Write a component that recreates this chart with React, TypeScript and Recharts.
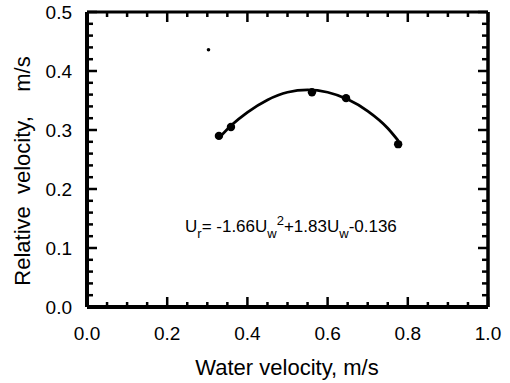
import React from "react";
import {
  ComposedChart,
  Line,
  Scatter,
  XAxis,
  YAxis,
  Customized,
} from "recharts";

// measured points (water velocity, relative velocity)
const measured = [
  { x: 0.329, y: 0.29 },
  { x: 0.359, y: 0.305 },
  { x: 0.561, y: 0.364 },
  { x: 0.646, y: 0.354 },
  { x: 0.776, y: 0.276 },
];

// fitted curve
const fitted = [
  { x: 0.33, y: 0.287 },
  { x: 0.36, y: 0.308 },
  { x: 0.4, y: 0.33 },
  { x: 0.45, y: 0.351 },
  { x: 0.5, y: 0.364 },
  { x: 0.55, y: 0.368 },
  { x: 0.6, y: 0.364 },
  { x: 0.65, y: 0.352 },
  { x: 0.7, y: 0.332 },
  { x: 0.75, y: 0.303 },
  { x: 0.776, y: 0.282 },
];

// small speck in the scan
const speck = [{ x: 0.303, y: 0.436 }];

const xTicks = [
  0, 0.05, 0.1, 0.15, 0.2, 0.25, 0.3, 0.35, 0.4, 0.45, 0.5, 0.55, 0.6, 0.65,
  0.7, 0.75, 0.8, 0.85, 0.9, 0.95, 1.0,
];
const yTicks = [
  0, 0.02, 0.04, 0.06, 0.08, 0.1, 0.12, 0.14, 0.16, 0.18, 0.2, 0.22, 0.24,
  0.26, 0.28, 0.3, 0.32, 0.34, 0.36, 0.38, 0.4, 0.42, 0.44, 0.46, 0.48, 0.5,
];

const xLabel = "Water velocity, m/s";
const yLabel = "Relative  velocity,    m/s";

const font = "'Liberation Sans', Arial, Helvetica, sans-serif";

const isMajorX = (v: number) => Math.abs(v * 5 - Math.round(v * 5)) < 1e-6;
const isMajorY = (v: number) => Math.abs(v * 10 - Math.round(v * 10)) < 1e-6;

function BottomTick(props: any) {
  const { x, y, payload } = props;
  const major = isMajorX(payload.value);
  return (
    <g>
      <line x1={x} y1={y} x2={x} y2={y - (major ? 10 : 5)} stroke="#000" strokeWidth={2.5} />
      {major && (
        <text x={x} y={y + 26} textAnchor="middle" dominantBaseline="central" fontSize={19} fontFamily={font} fill="#000">
          {payload.value.toFixed(1)}
        </text>
      )}
    </g>
  );
}

function TopTick(props: any) {
  const { x, y, payload } = props;
  const major = isMajorX(payload.value);
  return <line x1={x} y1={y} x2={x} y2={y + (major ? 10 : 5)} stroke="#000" strokeWidth={2.5} />;
}

function LeftTick(props: any) {
  const { x, y, payload } = props;
  const major = isMajorY(payload.value);
  return (
    <g>
      <line x1={x} y1={y} x2={x + (major ? 10 : 6)} y2={y} stroke="#000" strokeWidth={2.5} />
      {major && (
        <text x={x - 15} y={y} textAnchor="end" dominantBaseline="central" fontSize={19} fontFamily={font} fill="#000">
          {payload.value.toFixed(1)}
        </text>
      )}
    </g>
  );
}

function RightTick(props: any) {
  const { x, y, payload } = props;
  const major = isMajorY(payload.value);
  return <line x1={x} y1={y} x2={x - (major ? 10 : 6)} y2={y} stroke="#000" strokeWidth={2.5} />;
}

function Annotations() {
  return (
    <g fontFamily={font} fill="#000">
      <text x={287} y={375} textAnchor="middle" fontSize={22}>
        {xLabel}
      </text>
      <text x={22} y={171} textAnchor="middle" dominantBaseline="central" fontSize={22} style={{ whiteSpace: "pre" }} transform="rotate(-90 22 171)">
        {yLabel}
      </text>
      <text x={185} y={232} fontSize={17}>
        U
        <tspan dy={6} fontSize={13}>r</tspan>
        <tspan dy={-6}>= -1.66U</tspan>
        <tspan dy={6} fontSize={13}>w</tspan>
        <tspan dy={-13} fontSize={13}>2</tspan>
        <tspan dy={7}>+1.83U</tspan>
        <tspan dy={6} fontSize={13}>w</tspan>
        <tspan dy={-6}>-0.136</tspan>
      </text>
    </g>
  );
}

const hidden = () => <g />;

export default function App() {
  return (
    <div style={{ position: "absolute", left: 0, top: 0, background: "#fff" }}>
      <ComposedChart
        width={510}
        height={383}
        margin={{ top: 11, right: 21, bottom: 0, left: 20 }}
      >
        <XAxis
          xAxisId="x"
          dataKey="x"
          type="number"
          domain={[0, 1]}
          ticks={xTicks}
          interval={0}
          height={76}
          tickSize={0}
          tickMargin={0}
          tickLine={false}
          axisLine={{ stroke: "#000", strokeWidth: 4 }}
          tick={<BottomTick />}
          allowDataOverflow
        />
        <XAxis
          xAxisId="top"
          orientation="top"
          dataKey="x"
          type="number"
          domain={[0, 1]}
          ticks={xTicks}
          interval={0}
          height={1}
          tickSize={0}
          tickMargin={0}
          tickLine={false}
          axisLine={{ stroke: "#000", strokeWidth: 3 }}
          tick={<TopTick />}
          allowDataOverflow
        />
        <YAxis
          yAxisId="y"
          type="number"
          domain={[0, 0.5]}
          ticks={yTicks}
          interval={0}
          width={67}
          tickSize={0}
          tickMargin={0}
          tickLine={false}
          axisLine={{ stroke: "#000", strokeWidth: 4 }}
          tick={<LeftTick />}
          allowDataOverflow
        />
        <YAxis
          yAxisId="right"
          orientation="right"
          type="number"
          domain={[0, 0.5]}
          ticks={yTicks}
          interval={0}
          width={1}
          tickSize={0}
          tickMargin={0}
          tickLine={false}
          axisLine={{ stroke: "#000", strokeWidth: 3.5 }}
          tick={<RightTick />}
          allowDataOverflow
        />
        <Line
          xAxisId="x"
          yAxisId="y"
          data={fitted}
          dataKey="y"
          type="monotone"
          stroke="#000"
          strokeWidth={2.8}
          dot={false}
          activeDot={false}
          isAnimationActive={false}
        />
        <Scatter
          xAxisId="x"
          yAxisId="y"
          data={measured}
          dataKey="y"
          fill="#000"
          shape={(p: any) => <circle cx={p.cx} cy={p.cy} r={4.2} fill="#000" />}
          isAnimationActive={false}
        />
        <Scatter
          xAxisId="x"
          yAxisId="y"
          data={speck}
          dataKey="y"
          fill="#000"
          shape={(p: any) => <circle cx={p.cx} cy={p.cy} r={1.8} fill="#000" />}
          isAnimationActive={false}
        />
        {/* invisible series so the mirrored frame axes get drawn */}
        <Scatter
          xAxisId="top"
          yAxisId="right"
          data={measured}
          dataKey="y"
          shape={hidden}
          isAnimationActive={false}
        />
        <Customized component={<Annotations />} />
      </ComposedChart>
    </div>
  );
}
